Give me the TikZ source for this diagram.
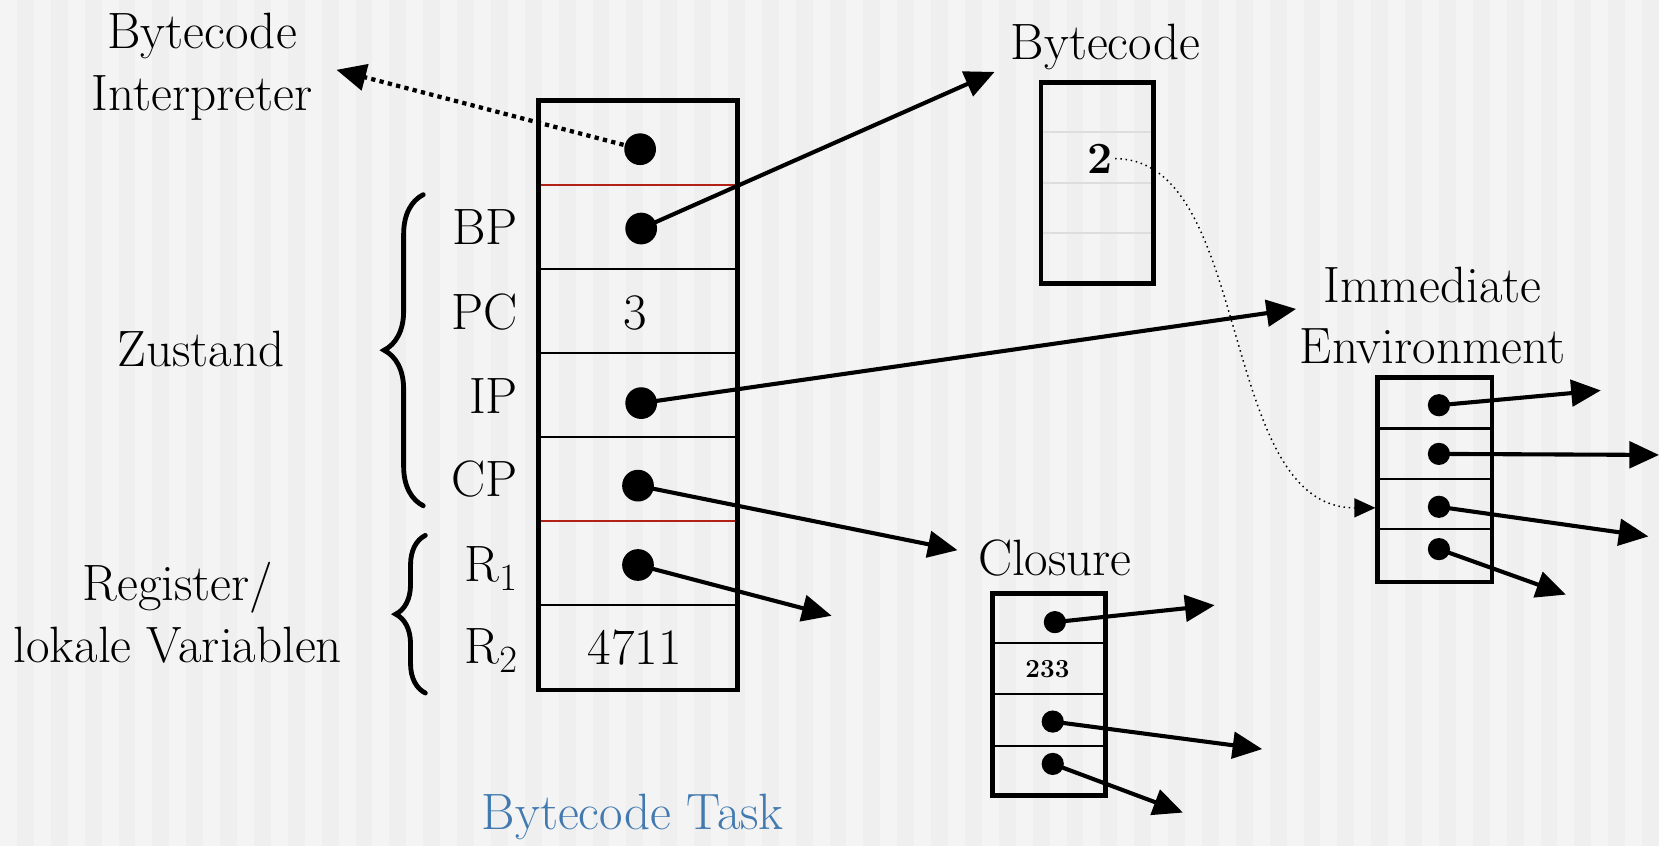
\documentclass[tikz,border=0pt]{standalone}
\usetikzlibrary{arrows.meta,decorations.pathreplacing}
\definecolor{bg}{HTML}{F4F4F4}
\definecolor{bgstripe}{HTML}{EFEFEF}
\definecolor{taskblue}{RGB}{66,122,176}
\definecolor{sepred}{RGB}{178,34,20}
\definecolor{faint}{HTML}{DDDDDD}
\begin{document}
\begin{tikzpicture}[x=0.02cm,y=-0.02cm,
  txt/.style={font=\fontsize{27.5}{33}\selectfont, inner sep=0pt, align=center},
  cellbox/.style={line width=2.5pt},
  rowline/.style={line width=1.1pt},
  bigdot/.style={circle, fill=black, minimum size=0.6cm, inner sep=0pt},
  smalldot/.style={circle, fill=black, minimum size=0.42cm, inner sep=0pt},
  ptr/.style={line width=2.2pt, -{Triangle[length=0.56cm,width=0.5cm]}},
  dottedptr/.style={line width=2.3pt, dash pattern=on 2.3pt off 2.3pt,
    -{Triangle[length=0.56cm,width=0.5cm]}},
  thinptr/.style={line width=0.8pt, dotted, -{Triangle[length=0.4cm,width=0.36cm]}},
  bracedeco/.style={decorate, line width=2.6pt, line cap=round}]

% background with faint vertical stripes
\useasboundingbox (0,0) rectangle (1568,800);
\fill[bg] (0,0) rectangle (1568,800);
\foreach \i in {0,...,48} \fill[bgstripe] (\i*32+16,0) rectangle ++(16,800);

% ---------- task frame ----------
\draw[rowline] (509,254) -- (697,254);
\draw[rowline] (509,334) -- (697,334);
\draw[rowline] (509,413) -- (697,413);
\draw[rowline] (509,572) -- (697,572);
\draw[rowline, sepred] (509,175) -- (697,175);
\draw[rowline, sepred] (509,492) -- (697,492);
\draw[cellbox] (509,95) rectangle (697,652);

\node[bigdot] (ipdot) at (605,141) {};
\node[bigdot] (bpdot) at (606,216) {};
\node[txt] (pcval) at (600,296) {3};
\node[bigdot] (envdot) at (606,381) {};
\node[bigdot] (cpdot) at (603,459) {};
\node[bigdot] (rdot) at (603,534) {};
\node[txt] (rval) at (600,612) {4711};

\node[txt, anchor=base east] (lbp) at (490,231) {BP};
\node[txt, anchor=base east] (lpc) at (490,311) {PC};
\node[txt, anchor=base east] (lip) at (490,391) {IP};
\node[txt, anchor=base east] (lcp) at (490,469) {CP};
\node[txt, anchor=base east] (lr1) at (490,550) {R$_1$};
\node[txt, anchor=base east] (lr2) at (490,627) {R$_2$};

% state and register braces
\coordinate (zbot) at (400,478);
\coordinate (ztop) at (400,184);
\coordinate (rbot) at (402,655);
\coordinate (rtop) at (402,506);
\draw[bracedeco, decoration={brace, amplitude=0.74cm}] (zbot) -- (ztop);
\draw[bracedeco, decoration={brace, amplitude=0.56cm}] (rbot) -- (rtop);
\node[txt] (zustand) at (190,330) {Zustand};
\node[txt] (register) at (168,579) {Register/\\lokale Variablen};

\node[txt] (interp) at (191,63) {Bytecode\\Interpreter};
\node[txt, text=taskblue] (task) at (598,772) {Bytecode Task};

% ---------- bytecode block ----------
\node[txt] (bclabel) at (1045,44) {Bytecode};
\draw[rowline, faint] (984,125) -- (1090,125);
\draw[rowline, faint] (984,173) -- (1090,173);
\draw[rowline, faint] (984,220) -- (1090,220);
\draw[cellbox] (984,78) rectangle (1090,268);
\node[font=\fontsize{24}{28}\selectfont\bfseries, inner sep=1pt] (bcval) at (1040,150) {2};

% ---------- immediate environment ----------
\node[txt] (envlabel) at (1354,298) {Immediate\\Environment};
\draw[rowline] (1302,405) -- (1410,405);
\draw[rowline] (1302,453) -- (1410,453);
\draw[rowline] (1302,500) -- (1410,500);
\draw[cellbox] (1302,357) rectangle (1410,550);
\coordinate (envin) at (1300,480);
\node[smalldot] (e1) at (1360,383) {};
\node[smalldot] (e2) at (1360,429) {};
\node[smalldot] (e3) at (1360,479) {};
\node[smalldot] (e4) at (1360,519) {};
\coordinate (e1t) at (1513,369);
\coordinate (e2t) at (1568,430);
\coordinate (e3t) at (1558,507);
\coordinate (e4t) at (1480,562);

% ---------- closure ----------
\node[txt] (cllabel) at (997,527) {Closure};
\draw[rowline] (938,608) -- (1045,608);
\draw[rowline] (938,656) -- (1045,656);
\draw[rowline] (938,705) -- (1045,705);
\draw[cellbox] (938,561) rectangle (1045,752);
\node[smalldot] (c1) at (997,588) {};
\node[font=\fontsize{14}{16}\selectfont\bfseries, inner sep=1pt] (clval) at (990,632) {233};
\node[smalldot] (c3) at (995,682) {};
\node[smalldot] (c4) at (995,722) {};
\coordinate (c1t) at (1148,572);
\coordinate (c3t) at (1193,708);
\coordinate (c4t) at (1118,768);

% ---------- pointers ----------
\coordinate (interpt) at (318,66);
\coordinate (bct) at (940,68);
\coordinate (envt) at (1225,292);
\coordinate (clt) at (905,520);
\coordinate (rt) at (786,582);
\draw[dottedptr] (ipdot.center) -- (interpt);
\draw[ptr] (bpdot.center) -- (bct);
\draw[ptr] (envdot.center) -- (envt);
\draw[ptr] (cpdot.center) -- (clt);
\draw[ptr] (rdot.center) -- (rt);
\draw[thinptr] (bcval.east) .. controls (1185,150) and (1150,480) .. (envin);

\draw[ptr] (e1.center) -- (e1t);
\draw[ptr] (e2.center) -- (e2t);
\draw[ptr] (e3.center) -- (e3t);
\draw[ptr] (e4.center) -- (e4t);
\draw[ptr] (c1.center) -- (c1t);
\draw[ptr] (c3.center) -- (c3t);
\draw[ptr] (c4.center) -- (c4t);
\end{tikzpicture}
\end{document}
